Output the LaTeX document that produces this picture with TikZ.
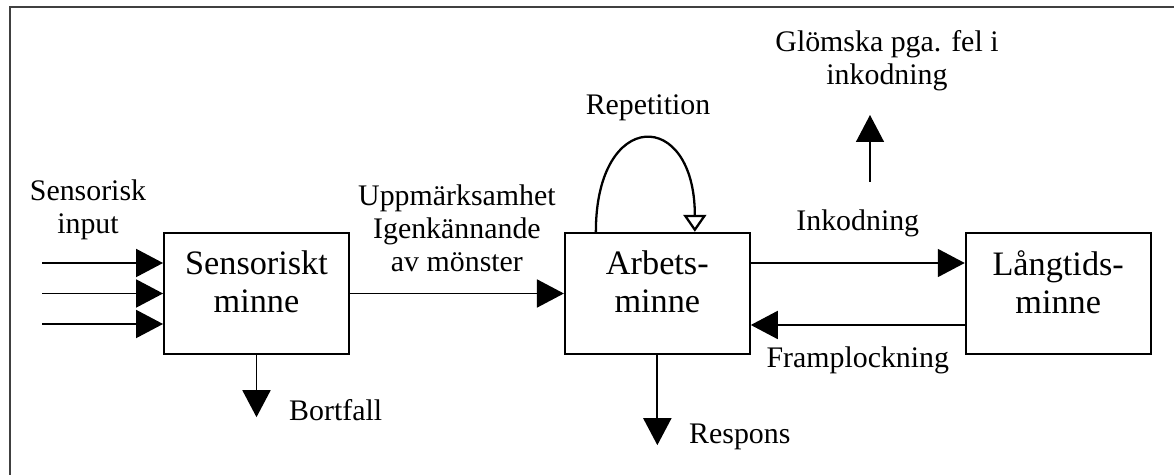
\documentclass[tikz,border=0pt]{standalone}
\usepackage{fontspec}
\setmainfont{Liberation Serif}
\usetikzlibrary{arrows.meta, positioning}

\begin{document}
\begin{tikzpicture}[
    x=0.02cm, y=-0.02cm,
    node distance=4.28cm,
    memory/.style={rectangle, draw, line width=1.1pt, minimum width=3.70cm, minimum height=2.43cm},
    memtext/.style={align=center, font=\fontsize{19.5}{21.6}\selectfont, yshift=0.23cm},
    lbl/.style={align=center, font=\fontsize{17}{19}\selectfont},
    line/.style={draw, line width=1.1pt, -{Triangle[length=0.54cm, width=0.56cm]}},
    loopline/.style={draw, line width=1.3pt, -{Triangle[open, length=0.34cm, width=0.46cm]}}
]
\useasboundingbox (0,0) rectangle (1174,475);

% Frame
\draw[line width=1.5pt, black!75] (10,475) |- (1174,7);

% Memory stores
\node[memory, label={[memtext]center:Sensoriskt\\minne}] (sens) at (256.5,293.5) {};
\node[memory, right=of sens, label={[memtext]center:Arbets-\\minne}] (arb) {};
\node[memory, right=of arb, label={[memtext]center:Långtids-\\minne}] (lang) {};

% Free labels
\node[lbl] (input) at (88,210) {Sensorisk\\input};
\node[lbl] (rep) at (648,108) {Repetition};
\node[lbl] (glom) at (887,61) {Glömska pga. fel i\\inkodning};
\node[lbl, anchor=west] (loss) at (283,410) {Bortfall};
\node[lbl, anchor=west] (resp) at (683,437) {Respons};

% Free ends
\coordinate (lossend) at ([yshift=-1.24cm]sens.south);
\coordinate (respend) at ([yshift=-1.8cm]arb.south);
\coordinate (forget) at (870,182);
\coordinate (forgettip) at (870,115);

% Connections
\foreach \y [count=\i] in {263,293.5,324} {
    \coordinate (in\i) at (42,\y);
    \path [line] (in\i) -- (in\i -| sens.west);
}
\path [line] (sens.east) -- node[lbl, above=0.29cm] {Uppmärksamhet\\Igenkännande\\av mönster} (arb.west);
\path [line] ([yshift=0.61cm]arb.east) -- node[lbl, above=0.39cm] {Inkodning} ([yshift=0.61cm]lang.west);
\path [line] ([yshift=-0.63cm]lang.west) -- node[lbl, below=0.29cm] {Framplockning} ([yshift=-0.63cm]arb.east);
\path [line] (sens.south) -- (lossend);
\path [line] (arb.south) -- (respend);
\path [line, line width=0.8pt] (forget) -- (forgettip);
\path [loopline] ([xshift=-1.23cm]arb.north) .. controls +(0,-124) and +(0,-124) .. ([xshift=0.75cm]arb.north);

\end{tikzpicture}
\end{document}
